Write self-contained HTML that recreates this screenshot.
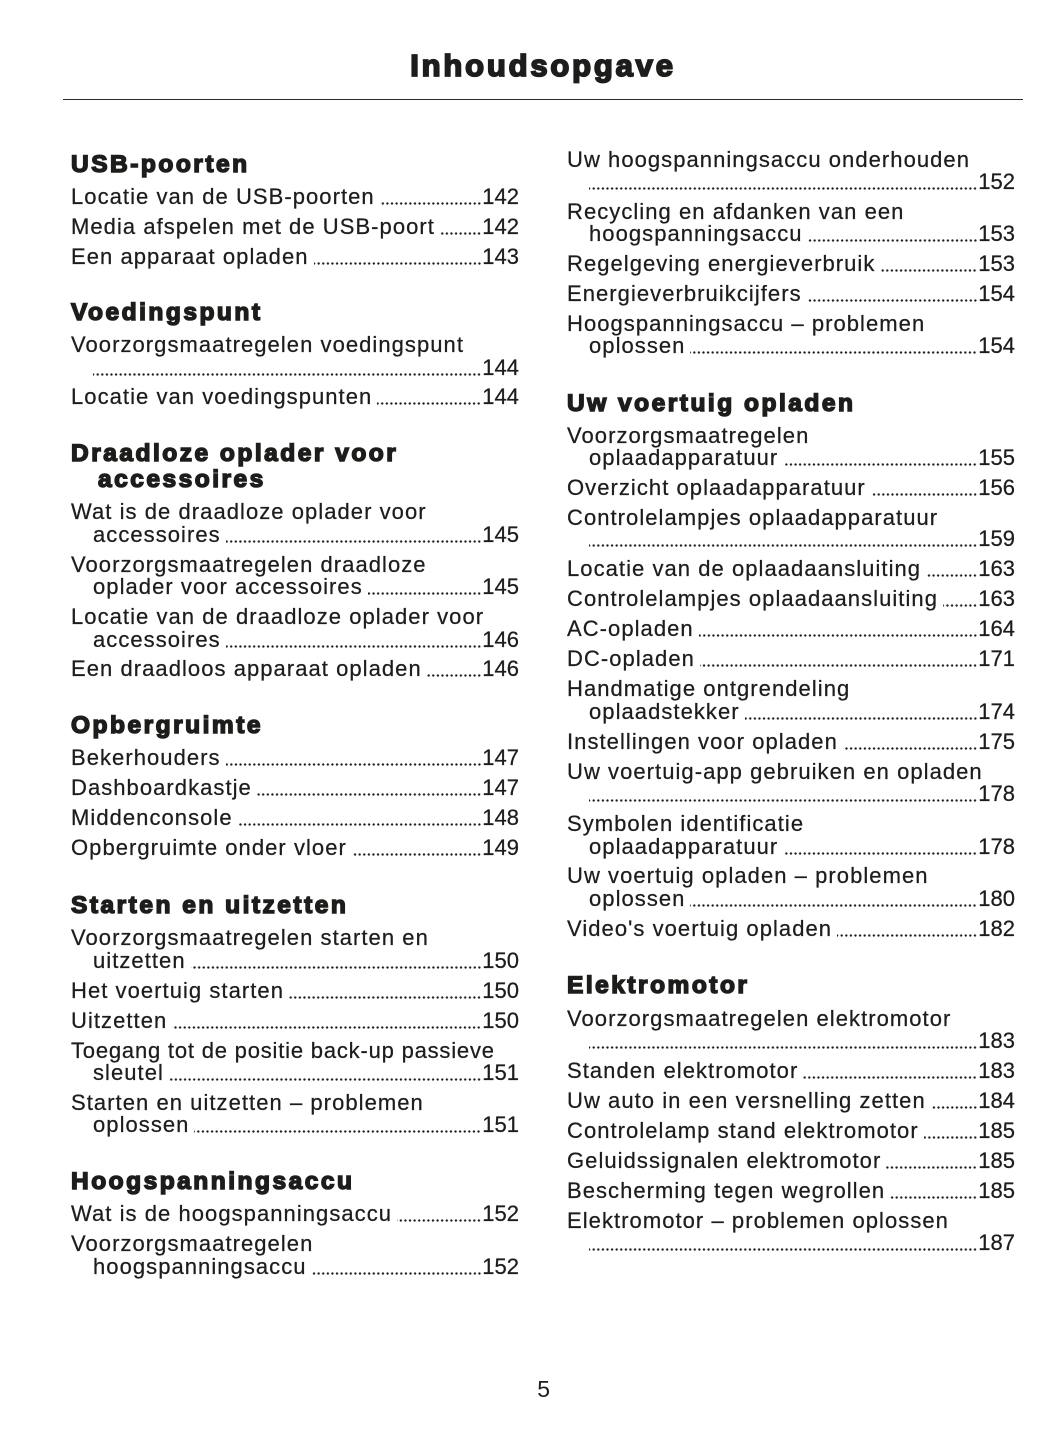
<!DOCTYPE html>
<html>
<head>
<meta charset="utf-8">
<style>
html,body{margin:0;padding:0;background:#fff;}
body{width:1055px;height:1448px;position:relative;overflow:hidden;font-family:"Liberation Sans",Arial,sans-serif;color:#1d1d1b;}
.t{position:absolute;left:63px;width:960px;top:49.8px;height:31px;line-height:31px;font-size:31px;font-weight:bold;text-align:center;letter-spacing:2.8px;-webkit-text-stroke:1.8px #1d1d1b;white-space:nowrap;}
.rule{position:absolute;left:63px;width:960px;top:98.6px;height:1.5px;background:#2a2a2a;}
.h{position:absolute;font-size:24.5px;line-height:25px;height:25px;font-weight:bold;letter-spacing:2.5px;-webkit-text-stroke:1.5px #1d1d1b;white-space:nowrap;}
.l{position:absolute;height:22px;line-height:22px;font-size:22px;display:flex;white-space:nowrap;letter-spacing:1.05px;-webkit-text-stroke:0.25px #1d1d1b;}
.L{left:71px;width:448px;}
.Lc{left:93px;width:426px;}
.R{left:567px;width:448px;}
.Rc{left:589px;width:426px;}
.hl{left:71px;}
.hr{left:567px;}
.d{flex:1;min-width:0;margin-left:5px;margin-right:1px;background:radial-gradient(circle,#1d1d1b 0.95px,rgba(29,29,27,0) 1.4px) right 0 top 16px/4.6px 3px repeat-x;}
.d0{margin-left:0;}
.n{letter-spacing:0;}
.pg{position:absolute;left:493.7px;width:100px;text-align:center;top:1377.5px;font-size:23px;line-height:23px;height:23px;}
</style>
</head>
<body>
<div class="t">Inhoudsopgave</div>
<div class="rule"></div>

<!-- LEFT COLUMN -->
<div class="h hl" style="top:151.8px">USB-poorten</div>
<div class="l L" style="top:186.4px"><span>Locatie van de USB-poorten</span><span class="d"></span><span class="n">142</span></div>
<div class="l L" style="top:216.4px"><span>Media afspelen met de USB-poort</span><span class="d"></span><span class="n">142</span></div>
<div class="l L" style="top:246.4px"><span>Een apparaat opladen</span><span class="d"></span><span class="n">143</span></div>

<div class="h hl" style="top:299.8px">Voedingspunt</div>
<div class="l L" style="top:334.4px"><span>Voorzorgsmaatregelen voedingspunt</span></div>
<div class="l Lc" style="top:356.9px"><span class="d d0"></span><span class="n">144</span></div>
<div class="l L" style="top:385.9px"><span>Locatie van voedingspunten</span><span class="d"></span><span class="n">144</span></div>

<div class="h hl" style="top:441.3px">Draadloze oplader voor</div>
<div class="h" style="top:466.8px;left:98px">accessoires</div>
<div class="l L" style="top:501.4px"><span>Wat is de draadloze oplader voor</span></div>
<div class="l Lc" style="top:524.4px"><span>accessoires</span><span class="d"></span><span class="n">145</span></div>
<div class="l L" style="top:554.4px"><span>Voorzorgsmaatregelen draadloze</span></div>
<div class="l Lc" style="top:576.4px"><span>oplader voor accessoires</span><span class="d"></span><span class="n">145</span></div>
<div class="l L" style="top:606.4px"><span>Locatie van de draadloze oplader voor</span></div>
<div class="l Lc" style="top:628.9px"><span>accessoires</span><span class="d"></span><span class="n">146</span></div>
<div class="l L" style="top:658.4px"><span>Een draadloos apparaat opladen</span><span class="d"></span><span class="n">146</span></div>

<div class="h hl" style="top:712.8px">Opbergruimte</div>
<div class="l L" style="top:747.4px"><span>Bekerhouders</span><span class="d"></span><span class="n">147</span></div>
<div class="l L" style="top:777.4px"><span>Dashboardkastje</span><span class="d"></span><span class="n">147</span></div>
<div class="l L" style="top:807.4px"><span>Middenconsole</span><span class="d"></span><span class="n">148</span></div>
<div class="l L" style="top:837.4px"><span>Opbergruimte onder vloer</span><span class="d"></span><span class="n">149</span></div>

<div class="h hl" style="top:892.8px">Starten en uitzetten</div>
<div class="l L" style="top:927.4px"><span>Voorzorgsmaatregelen starten en</span></div>
<div class="l Lc" style="top:949.9px"><span>uitzetten</span><span class="d"></span><span class="n">150</span></div>
<div class="l L" style="top:979.9px"><span>Het voertuig starten</span><span class="d"></span><span class="n">150</span></div>
<div class="l L" style="top:1009.9px"><span>Uitzetten</span><span class="d"></span><span class="n">150</span></div>
<div class="l L" style="top:1039.9px;letter-spacing:0.8px"><span>Toegang tot de positie back-up passieve</span></div>
<div class="l Lc" style="top:1061.9px"><span>sleutel</span><span class="d"></span><span class="n">151</span></div>
<div class="l L" style="top:1091.9px"><span>Starten en uitzetten – problemen</span></div>
<div class="l Lc" style="top:1114.4px"><span>oplossen</span><span class="d"></span><span class="n">151</span></div>

<div class="h hl" style="top:1169.3px">Hoogspanningsaccu</div>
<div class="l L" style="top:1203.4px"><span>Wat is de hoogspanningsaccu</span><span class="d"></span><span class="n">152</span></div>
<div class="l L" style="top:1233.4px"><span>Voorzorgsmaatregelen</span></div>
<div class="l Lc" style="top:1255.9px"><span>hoogspanningsaccu</span><span class="d"></span><span class="n">152</span></div>

<!-- RIGHT COLUMN -->
<div class="l R" style="top:148.9px"><span>Uw hoogspanningsaccu onderhouden</span></div>
<div class="l Rc" style="top:170.9px"><span class="d d0"></span><span class="n">152</span></div>
<div class="l R" style="top:200.9px"><span>Recycling en afdanken van een</span></div>
<div class="l Rc" style="top:223.1px"><span>hoogspanningsaccu</span><span class="d"></span><span class="n">153</span></div>
<div class="l R" style="top:252.9px"><span>Regelgeving energieverbruik</span><span class="d"></span><span class="n">153</span></div>
<div class="l R" style="top:282.9px"><span>Energieverbruikcijfers</span><span class="d"></span><span class="n">154</span></div>
<div class="l R" style="top:312.9px"><span>Hoogspanningsaccu – problemen</span></div>
<div class="l Rc" style="top:334.9px"><span>oplossen</span><span class="d"></span><span class="n">154</span></div>

<div class="h hr" style="top:390.5px">Uw voertuig opladen</div>
<div class="l R" style="top:424.9px"><span>Voorzorgsmaatregelen</span></div>
<div class="l Rc" style="top:446.9px"><span>oplaadapparatuur</span><span class="d"></span><span class="n">155</span></div>
<div class="l R" style="top:476.9px"><span>Overzicht oplaadapparatuur</span><span class="d"></span><span class="n">156</span></div>
<div class="l R" style="top:506.9px"><span>Controlelampjes oplaadapparatuur</span></div>
<div class="l Rc" style="top:528.4px"><span class="d d0"></span><span class="n">159</span></div>
<div class="l R" style="top:558.4px"><span>Locatie van de oplaadaansluiting</span><span class="d"></span><span class="n">163</span></div>
<div class="l R" style="top:588.4px"><span>Controlelampjes oplaadaansluiting</span><span class="d"></span><span class="n">163</span></div>
<div class="l R" style="top:618.4px"><span>AC-opladen</span><span class="d"></span><span class="n">164</span></div>
<div class="l R" style="top:648.4px"><span>DC-opladen</span><span class="d"></span><span class="n">171</span></div>
<div class="l R" style="top:678.4px"><span>Handmatige ontgrendeling</span></div>
<div class="l Rc" style="top:700.9px"><span>oplaadstekker</span><span class="d"></span><span class="n">174</span></div>
<div class="l R" style="top:730.9px"><span>Instellingen voor opladen</span><span class="d"></span><span class="n">175</span></div>
<div class="l R" style="top:760.9px"><span>Uw voertuig-app gebruiken en opladen</span></div>
<div class="l Rc" style="top:783.4px"><span class="d d0"></span><span class="n">178</span></div>
<div class="l R" style="top:813.4px"><span>Symbolen identificatie</span></div>
<div class="l Rc" style="top:835.7px"><span>oplaadapparatuur</span><span class="d"></span><span class="n">178</span></div>
<div class="l R" style="top:865.4px"><span>Uw voertuig opladen – problemen</span></div>
<div class="l Rc" style="top:887.7px"><span>oplossen</span><span class="d"></span><span class="n">180</span></div>
<div class="l R" style="top:917.7px"><span>Video's voertuig opladen</span><span class="d"></span><span class="n">182</span></div>

<div class="h hr" style="top:973.1px">Elektromotor</div>
<div class="l R" style="top:1007.7px"><span>Voorzorgsmaatregelen elektromotor</span></div>
<div class="l Rc" style="top:1030.1px"><span class="d d0"></span><span class="n">183</span></div>
<div class="l R" style="top:1059.9px"><span>Standen elektromotor</span><span class="d"></span><span class="n">183</span></div>
<div class="l R" style="top:1089.9px"><span>Uw auto in een versnelling zetten</span><span class="d"></span><span class="n">184</span></div>
<div class="l R" style="top:1119.9px"><span>Controlelamp stand elektromotor</span><span class="d"></span><span class="n">185</span></div>
<div class="l R" style="top:1149.9px"><span>Geluidssignalen elektromotor</span><span class="d"></span><span class="n">185</span></div>
<div class="l R" style="top:1179.7px"><span>Bescherming tegen wegrollen</span><span class="d"></span><span class="n">185</span></div>
<div class="l R" style="top:1209.7px"><span>Elektromotor – problemen oplossen</span></div>
<div class="l Rc" style="top:1231.9px"><span class="d d0"></span><span class="n">187</span></div>

<div class="pg">5</div>
</body>
</html>
